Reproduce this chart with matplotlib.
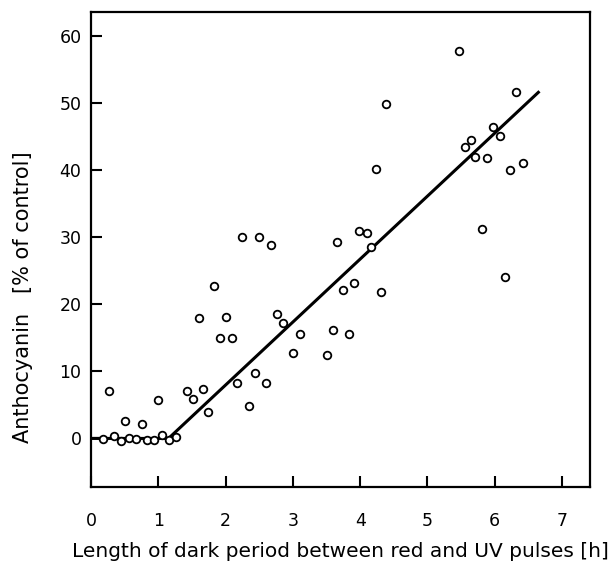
import numpy as np
import matplotlib
matplotlib.use('Agg')
import matplotlib.pyplot as plt

# Messpunkte
dark_h = [0.17, 0.26, 0.34, 0.44, 0.50, 0.57, 0.67, 0.75, 0.83, 0.93, 1.00, 1.06, 1.16, 1.26,
          1.42, 1.51, 1.67, 1.74,
          2.25, 2.50, 2.67, 1.83, 1.60, 2.01, 1.92, 2.10, 2.77, 2.85, 3.10, 3.00, 2.44, 2.17, 2.60, 2.34,
          4.39, 4.24, 3.99, 4.10, 3.65, 4.16, 3.91, 3.74, 4.31, 3.59, 3.83, 3.50,
          5.47, 6.32, 5.97, 5.65, 5.56, 6.08, 5.71, 5.89, 6.42, 6.23, 5.81, 6.15]
anthocyanin = [-0.1, 7.1, 0.35, -0.45, 2.6, 0.1, -0.1, 2.1, -0.25, -0.2, 5.7, 0.5, -0.3, 0.2,
               7.0, 5.9, 7.3, 4.0,
               30.0, 30.1, 28.9, 22.7, 17.9, 18.1, 14.9, 14.9, 18.6, 17.2, 15.6, 12.8, 9.8, 8.3, 8.2, 4.9,
               49.9, 40.1, 30.9, 30.7, 29.3, 28.6, 23.2, 22.1, 21.9, 16.1, 15.6, 12.4,
               57.7, 51.6, 46.4, 44.5, 43.4, 45.1, 42.0, 41.8, 41.1, 40.0, 31.2, 24.0]

# Regressionslinie (Knickpunkt bei ca. 1.15 h)
fit_x = [0.0, 1.15, 6.65]
fit_y = [0.0, 0.0, 51.6]

xticks = [0, 1, 2, 3, 4, 5, 6, 7]
yticks = [0, 10, 20, 30, 40, 50, 60]

plt.rcParams['font.family'] = ['DejaVu Sans']

fig = plt.figure(figsize=(6.16, 5.64), dpi=100)
ax = fig.add_axes([0.148, 0.137, 0.810, 0.842])

ax.plot(fit_x, fit_y, color='black', lw=2.2, zorder=2)
ax.scatter(dark_h, anthocyanin, s=30, facecolors='white', edgecolors='black',
           linewidths=1.3, zorder=3)

ax.set_xlim(0, 7.42)
ax.set_ylim(-7.2, 63.6)
ax.set_xticks(xticks)
ax.set_yticks(yticks)
ax.tick_params(direction='in', length=8, width=1.5, labelsize=12.5)
ax.tick_params(axis='x', pad=18)
ax.tick_params(axis='y', pad=7)

for sp in ax.spines.values():
    sp.set_linewidth(1.6)

ax.set_xlabel('Length of dark period between red and UV pulses [h]', fontsize=14.5, labelpad=9)
ax.set_ylabel('Anthocyanin   [% of control]', fontsize=15)
ax.yaxis.set_label_coords(-0.116, 0.40)

fig.savefig('out.png', dpi=100)
